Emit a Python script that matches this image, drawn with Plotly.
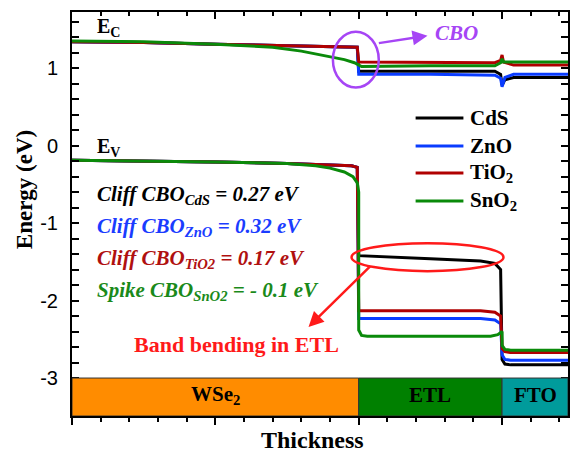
import plotly.graph_objects as go

# ---------------- data ----------------
materials = ["CdS", "ZnO", "TiO<sub>2</sub>", "SnO<sub>2</sub>"]
colors = ["#000000", "#0a3cff", "#b00000", "#0a8a0a"]

# Conduction band (Ec)
ec_x_cds = [0, 0.5, 1.0, 1.5, 1.99, 2.0, 2.5, 2.95, 2.99, 3.0, 3.02, 3.08, 3.46]
ec_y_cds = [1.34, 1.33, 1.31, 1.29, 1.27, 0.96, 0.96, 0.96, 0.92, 0.78, 0.85, 0.88, 0.88]
ec_x_zno = [0, 0.5, 1.0, 1.5, 1.99, 2.0, 2.5, 2.95, 2.99, 3.0, 3.02, 3.08, 3.46]
ec_y_zno = [1.34, 1.33, 1.31, 1.29, 1.27, 0.92, 0.92, 0.91, 0.87, 0.76, 0.88, 0.92, 0.92]
ec_x_tio2 = [0, 0.5, 1.0, 1.5, 1.99, 2.0, 2.5, 2.95, 2.99, 3.0, 3.01, 3.08, 3.46]
ec_y_tio2 = [1.34, 1.33, 1.31, 1.29, 1.27, 1.08, 1.07, 1.07, 1.10, 1.17, 1.08, 1.04, 1.04]
ec_x_sno2 = [0, 0.5, 1.0, 1.4, 1.6, 1.8, 1.9, 1.97, 2.0, 2.02, 2.5, 2.95, 2.99, 3.0, 3.01, 3.08, 3.46]
ec_y_sno2 = [1.35, 1.34, 1.31, 1.27, 1.22, 1.15, 1.11, 1.07, 1.04, 1.02, 1.03, 1.03, 1.07, 1.12, 1.08, 1.08, 1.08]

# Valence band (Ev)
ev_x_cds = [0, 1.0, 1.5, 1.95, 1.99, 2.0, 2.5, 2.85, 2.95, 2.99, 3.0, 3.02, 3.06, 3.46]
ev_y_cds = [-0.19, -0.21, -0.23, -0.26, -0.28, -1.42, -1.46, -1.49, -1.52, -1.60, -2.76, -2.82, -2.83, -2.83]
ev_x_zno = [0, 1.0, 1.5, 1.95, 1.99, 2.0, 2.5, 2.85, 2.95, 2.99, 3.0, 3.02, 3.06, 3.46]
ev_y_zno = [-0.19, -0.21, -0.23, -0.26, -0.28, -2.23, -2.23, -2.23, -2.25, -2.30, -2.70, -2.76, -2.77, -2.77]
ev_x_tio2 = [0, 1.0, 1.5, 1.95, 1.99, 2.0, 2.5, 2.85, 2.95, 2.99, 3.0, 3.02, 3.06, 3.46]
ev_y_tio2 = [-0.19, -0.21, -0.23, -0.26, -0.28, -2.13, -2.13, -2.13, -2.15, -2.20, -2.62, -2.66, -2.67, -2.67]
ev_x_sno2 = [0, 1.0, 1.5, 1.7, 1.8, 1.9, 1.96, 1.99, 2.0, 2.0, 2.02, 2.06, 2.92, 2.97, 3.0, 3.0, 3.02, 3.06, 3.46]
ev_y_sno2 = [-0.19, -0.21, -0.23, -0.26, -0.29, -0.34, -0.40, -0.48, -0.60, -2.38, -2.45, -2.46, -2.46, -2.44, -2.40, -2.58, -2.63, -2.64, -2.64]

ec_x = [ec_x_cds, ec_x_zno, ec_x_tio2, ec_x_sno2]
ec_y = [ec_y_cds, ec_y_zno, ec_y_tio2, ec_y_sno2]
ev_x = [ev_x_cds, ev_x_zno, ev_x_tio2, ev_x_sno2]
ev_y = [ev_y_cds, ev_y_zno, ev_y_tio2, ev_y_sno2]

# Layers bar
layer_names = ["WSe<sub>2</sub>", "ETL", "FTO"]
layer_edges = [0, 2, 3, 3.46]
layer_colors = ["#ff8c00", "#008000", "#009b9b"]
layer_bottom, layer_top = -3.49, -3.0

ytick_vals = [1, 0, -1, -2, -3]
ytick_text = ["1", "0", "-1", "-2", "-3"]

cbo_labels = [
    ("Cliff CBO<sub>CdS</sub> = 0.27 eV", "#000000"),
    ("Cliff CBO<sub>ZnO</sub> = 0.32 eV", "#1a3cff"),
    ("Cliff CBO<sub>TiO2</sub> = 0.17 eV", "#b01010"),
    ("Spike CBO<sub>SnO2</sub> = - 0.1 eV", "#1a8a1a"),
]
cbo_label_y = [-0.64, -1.05, -1.46, -1.88]

SERIF = "Liberation Serif"
SANS = "Liberation Sans"

# plot area in pixels (for paper-coordinate helpers)
L, R, T, B = 72, 570, 12, 416
def px(xp):
    return (xp - L) / (R - L)
def py(yp):
    return (B - yp) / (B - T)

fig = go.Figure()

for i, m in enumerate(materials):
    fig.add_trace(go.Scatter(x=ec_x[i], y=ec_y[i], mode="lines", name=m,
                             line=dict(color=colors[i], width=3),
                             showlegend=False, hoverinfo="skip"))
    fig.add_trace(go.Scatter(x=ev_x[i], y=ev_y[i], mode="lines", name=m,
                             line=dict(color=colors[i], width=3),
                             showlegend=False, hoverinfo="skip"))

# dummy trace on top axis so that it is drawn
fig.add_trace(go.Scatter(x=layer_edges, y=[layer_top] * len(layer_edges), xaxis="x2",
                         mode="lines", line=dict(width=0), showlegend=False, hoverinfo="skip"))

shapes = []
annotations = []
for i, name in enumerate(layer_names):
    x0, x1 = layer_edges[i], layer_edges[i + 1]
    shapes.append(dict(type="rect", xref="x", yref="y", x0=x0, x1=x1,
                       y0=layer_bottom, y1=layer_top, fillcolor=layer_colors[i],
                       line=dict(color="#333333", width=1), layer="above"))
    annotations.append(dict(x=(x0 + x1) / 2, y=(layer_bottom + layer_top) / 2 + 0.02,
                            xref="x", yref="y", text="<b>" + name + "</b>", showarrow=False,
                            xanchor="center", yanchor="middle",
                            font=dict(family=SERIF, size=21, color="black")))

# legend (drawn by hand to match the long line samples)
legend_rows = [118, 146, 173, 201]
for i, m in enumerate(materials):
    shapes.append(dict(type="line", xref="paper", yref="paper", x0=px(417), x1=px(465),
                       y0=py(legend_rows[i]), y1=py(legend_rows[i]),
                       line=dict(color=colors[i], width=3)))
    annotations.append(dict(x=px(470), y=py(legend_rows[i]), xref="paper", yref="paper",
                            text="<b>" + m + "</b>", showarrow=False, xanchor="left",
                            yanchor="middle",
                            font=dict(family=SERIF, size=21, color="black")))

# Ec / Ev labels
annotations.append(dict(x=0.16, y=1.53, xref="x", yref="y", text="<b>E<sub>C</sub></b>",
                        showarrow=False, xanchor="left", yanchor="middle",
                        font=dict(family=SERIF, size=20, color="black")))
annotations.append(dict(x=0.16, y=-0.03, xref="x", yref="y", text="<b>E<sub>V</sub></b>",
                        showarrow=False, xanchor="left", yanchor="middle",
                        font=dict(family=SERIF, size=20, color="black")))

# CBO labels
for (txt, col), yy in zip(cbo_labels, cbo_label_y):
    annotations.append(dict(x=0.16, y=yy, xref="x", yref="y", text="<b><i>" + txt + "</i></b>",
                            showarrow=False, xanchor="left", yanchor="middle",
                            font=dict(family=SERIF, size=21, color=col)))

# CBO highlight
purple = "#a645f5"
shapes.append(dict(type="circle", xref="x", yref="y", x0=1.82, x1=2.14, y0=0.75, y1=1.47,
                   line=dict(color=purple, width=2.5)))
annotations.append(dict(x=2.48, y=1.42, ax=2.13, ay=1.32, xref="x", yref="y", axref="x", ayref="y",
                        text="", showarrow=True, arrowhead=2, arrowsize=1.2, arrowwidth=2.5,
                        arrowcolor=purple))
annotations.append(dict(x=2.52, y=1.45, xref="x", yref="y", text="<b><i>CBO</i></b>",
                        showarrow=False, xanchor="left", yanchor="middle",
                        font=dict(family=SERIF, size=21, color=purple)))

# Band bending highlight
red = "#ff1a1a"
shapes.append(dict(type="circle", xref="x", yref="y", x0=1.95, x1=3.01, y0=-1.62, y1=-1.26,
                   line=dict(color=red, width=2.5)))
annotations.append(dict(x=1.65, y=-2.34, ax=2.09, ay=-1.54, xref="x", yref="y", axref="x", ayref="y",
                        text="", showarrow=True, arrowhead=2, arrowsize=1.2, arrowwidth=2.5,
                        arrowcolor=red))
annotations.append(dict(x=1.15, y=-2.57, xref="x", yref="y", text="<b>Band bending in ETL</b>",
                        showarrow=False, xanchor="center", yanchor="middle",
                        font=dict(family=SERIF, size=22, color=red)))

# axis titles
annotations.append(dict(x=px(25), y=py(190), xref="paper", yref="paper",
                        text="<b>Energy (eV)</b>", textangle=-90, showarrow=False,
                        xanchor="center", yanchor="middle",
                        font=dict(family=SERIF, size=23, color="black")))
annotations.append(dict(x=px(313), y=py(440), xref="paper", yref="paper",
                        text="<b>Thickness</b>", showarrow=False,
                        xanchor="center", yanchor="middle",
                        font=dict(family=SERIF, size=24, color="black")))

fig.update_layout(
    width=573, height=458,
    margin=dict(l=L, r=573 - R, t=T, b=458 - B),
    paper_bgcolor="white", plot_bgcolor="white",
    showlegend=False,
    xaxis=dict(range=[0, 3.46], showgrid=False, zeroline=False, showline=True,
               linecolor="black", linewidth=2, mirror=False,
               ticks="outside", ticklen=7, tickwidth=2, tickcolor="black", dtick=1, tick0=0,
               showticklabels=False,
               minor=dict(ticks="outside", ticklen=4, tickwidth=1.5, dtick=0.2, tickcolor="black")),
    xaxis2=dict(range=[0, 3.46], overlaying="x", side="top", showgrid=False, zeroline=False,
                showline=True, linecolor="black", linewidth=2,
                ticks="inside", ticklen=7, tickwidth=2, tickcolor="black", dtick=1, tick0=0,
                showticklabels=False,
                minor=dict(ticks="inside", ticklen=4, tickwidth=1.5, dtick=0.2, tickcolor="black")),
    yaxis=dict(range=[-3.49, 1.725], showgrid=False, zeroline=False, showline=True,
               linecolor="black", linewidth=2, mirror="allticks",
               ticks="inside", ticklen=7, tickwidth=2, tickcolor="black",
               tickvals=ytick_vals, ticktext=ytick_text, ticklabelstandoff=8,
               tickfont=dict(family=SANS, size=20, color="black"),
               minor=dict(ticks="inside", ticklen=4, tickwidth=1.5, dtick=0.2, tickcolor="black")),
    shapes=shapes,
    annotations=annotations,
)

fig.write_html("out.html")
